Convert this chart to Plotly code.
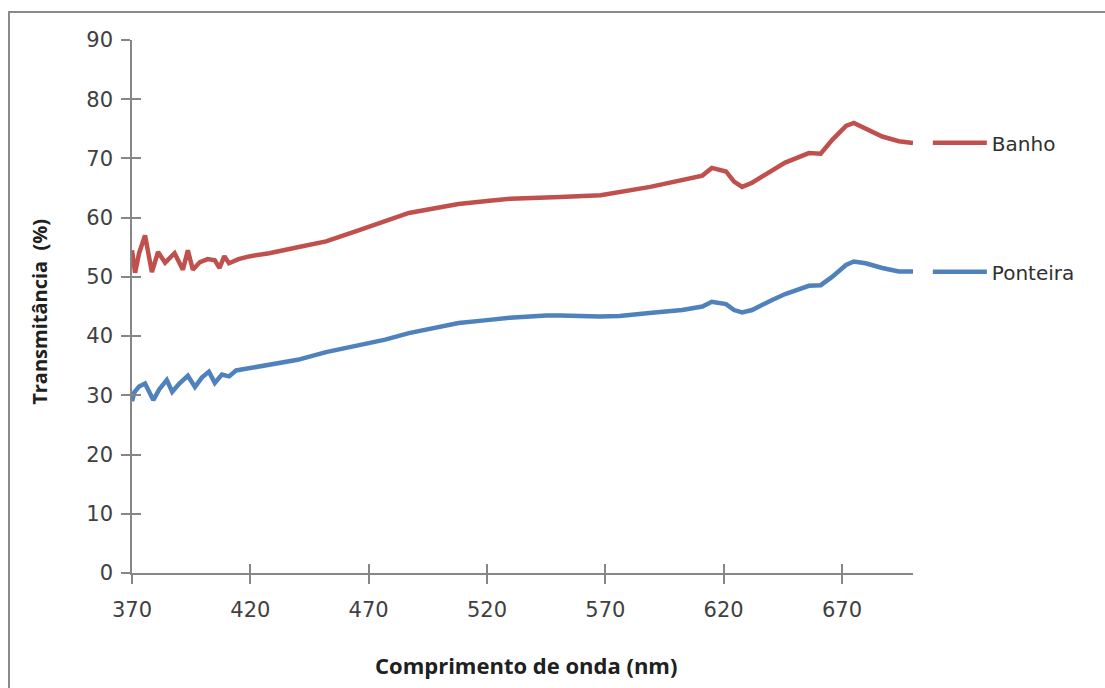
import plotly.graph_objects as go

# ---- data ----
banho_x = [370, 371.3, 373, 375.5, 378.4, 381, 384, 388, 391.5, 393.6, 395.7, 398.7,
           402, 405, 407, 409, 411, 415, 420, 428, 440, 452, 466, 477, 487, 498, 508,
           520, 530, 551, 568, 589, 602.5, 611, 615, 618, 621, 624.4, 627.8, 632,
           640.5, 646, 656, 661, 665.8, 671.7, 675, 680, 687, 694, 700]
banho_y = [54.5, 50.7, 54, 57, 50.8, 54.2, 52.4, 54, 51.2, 54.5, 51.2, 52.5,
           53, 52.8, 51.5, 53.5, 52.3, 53, 53.5, 54, 55, 56, 57.9, 59.5, 60.8, 61.6, 62.3,
           62.8, 63.2, 63.5, 63.8, 65.2, 66.4, 67.1, 68.4, 68.1, 67.8, 66.1, 65.2, 65.9,
           68.1, 69.3, 70.9, 70.8, 73.1, 75.5, 76, 75.1, 73.7, 72.9, 72.6]

ponteira_x = [370, 371, 373, 375.5, 379, 381.5, 384.7, 387, 390, 393.6, 396.6, 399.5,
              402.5, 405, 408, 411, 414, 420, 428, 440, 452, 466, 477, 487, 498, 508,
              520, 529.5, 545, 551, 567.5, 576, 588.6, 602.5, 611, 615, 621, 624.4,
              627.8, 632, 640.5, 646, 656, 661, 665.8, 671.7, 675, 680, 687, 694, 700]
ponteira_y = [29, 30.5, 31.5, 32, 29.2, 31, 32.6, 30.6, 32, 33.3, 31.4, 33,
              34, 32.1, 33.5, 33.2, 34.2, 34.6, 35.2, 36, 37.3, 38.5, 39.4, 40.5, 41.4, 42.2,
              42.7, 43.1, 43.5, 43.5, 43.3, 43.4, 43.9, 44.4, 45, 45.8, 45.4, 44.4,
              44, 44.4, 46.1, 47.1, 48.5, 48.6, 50, 52, 52.6, 52.3, 51.5, 50.9, 50.9]

x_ticks = [370, 420, 470, 520, 570, 620, 670]
y_ticks = [0, 10, 20, 30, 40, 50, 60, 70, 80, 90]

RED = "#C0504D"
BLUE = "#4F81BD"
AXIS = "#868686"
TICKFONT = dict(family="DejaVu Sans", size=21, color="#404040")

fig = go.Figure()
fig.add_trace(go.Scatter(x=banho_x, y=banho_y, mode="lines", name="Banho",
                         line=dict(color=RED, width=4.5), legend="legend"))
fig.add_trace(go.Scatter(x=ponteira_x, y=ponteira_y, mode="lines", name="Ponteira",
                         line=dict(color=BLUE, width=4.5), legend="legend2"))
# invisible helper trace so the inside-tick overlay axes are drawn
fig.add_trace(go.Scatter(x=banho_x, y=banho_y, mode="lines", xaxis="x2", yaxis="y2",
                         line=dict(color="rgba(0,0,0,0)"), showlegend=False,
                         hoverinfo="skip"))

fig.update_layout(
    width=1105, height=688,
    margin=dict(l=132, r=192, t=40, b=115),
    paper_bgcolor="white", plot_bgcolor="white",
    xaxis=dict(range=[370, 700], tickvals=x_ticks, ticks="outside", ticklen=9,
               tickwidth=1.5, tickcolor=AXIS, showline=True, linecolor=AXIS,
               linewidth=1.5, showgrid=False, zeroline=False, tickfont=TICKFONT,
               ticklabelstandoff=8),
    yaxis=dict(range=[0, 90], tickvals=y_ticks, ticks="outside", ticklen=9,
               tickwidth=1.5, tickcolor=AXIS, showline=True, linecolor=AXIS,
               linewidth=1.5, showgrid=False, zeroline=False, tickfont=TICKFONT,
               ticklabelstandoff=4),
    xaxis2=dict(overlaying="x", range=[370, 700], tickvals=x_ticks, ticks="inside",
                ticklen=9, tickwidth=1.5, tickcolor=AXIS, showticklabels=False,
                showgrid=False, zeroline=False, showline=False),
    yaxis2=dict(overlaying="y", range=[0, 90], tickvals=y_ticks, ticks="inside",
                ticklen=9, tickwidth=1.5, tickcolor=AXIS, showticklabels=False,
                showgrid=False, zeroline=False, showline=False),
    legend=dict(x=1.019, y=0.807, xanchor="left", yanchor="middle",
                font=dict(family="DejaVu Sans", size=20, color="#303030"),
                bgcolor="rgba(0,0,0,0)", itemwidth=54),
    legend2=dict(x=1.019, y=0.565, xanchor="left", yanchor="middle",
                 font=dict(family="DejaVu Sans", size=20, color="#303030"),
                 bgcolor="rgba(0,0,0,0)", itemwidth=54),
    showlegend=True,
    annotations=[
        dict(text="<b>Comprimento de onda (nm)</b>", xref="paper", yref="paper",
             x=0.5045, y=-0.1726, xanchor="center", yanchor="middle", showarrow=False,
             font=dict(family="Open Sans", size=22, color="#202020")),
        dict(text="<b>Transmitância  (%)</b>", xref="paper", yref="paper",
             x=-0.1178, y=0.49, xanchor="center", yanchor="middle", showarrow=False,
             textangle=-90, font=dict(family="Open Sans", size=20, color="#202020")),
    ],
    shapes=[
        dict(type="rect", xref="paper", yref="paper", x0=-0.1575, y0=-0.25,
             x1=1.26, y1=1.0525, line=dict(color="#8a8a8a", width=2),
             fillcolor="rgba(0,0,0,0)", layer="below"),
    ],
)

fig.write_html("out.html")
